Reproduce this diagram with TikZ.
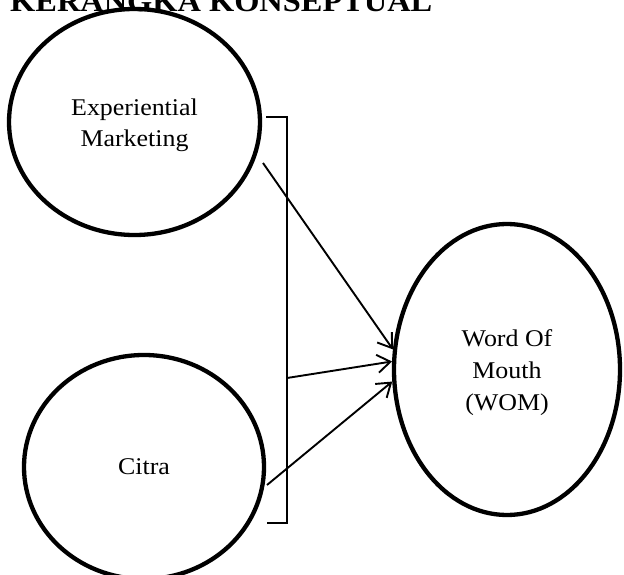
\documentclass[tikz,border=0pt]{standalone}
\usepackage{fontspec}
\setmainfont{Liberation Serif}[FakeStretch=1.08]
\usetikzlibrary{shapes.geometric,arrows.meta}
\newcommand{\lowered}[2]{\raisebox{-#1}[0pt][0pt]{\begin{tabular}{@{}c@{}}#2\end{tabular}}}
\tikzset{
  bubble/.style={ellipse, draw, line width=4.3pt, inner sep=0pt, align=center,
    font=\fontsize{24}{31}\selectfont},
  conn/.style={line width=1.9pt, -{Straight Barb[length=13pt,width=18pt]}},
  bracketline/.style={line width=1.5pt}
}
\begin{document}
\begin{tikzpicture}[x=1pt,y=-1pt]
\path[use as bounding box] (0,0) rectangle (624,575);
\clip (0,0) rectangle (624,575);
\node[anchor=base west, inner sep=0pt, font=\fontsize{30}{32}\selectfont\bfseries] (title) at (10,11.5) {KERANGKA KONSEPTUAL};
\node[bubble, minimum width=251pt, minimum height=226pt] (em) at (134.5,122) {\lowered{9.5pt}{Experiential\\Marketing}};
\node[bubble, minimum width=240pt, minimum height=224pt] (ct) at (144,467) {Citra};
\node[bubble, minimum width=226pt, minimum height=291pt, font=\fontsize{24}{32}\selectfont] (wom) at (507,369.5) {\lowered{9pt}{Word Of\\Mouth\\(WOM)}};
\coordinate (b1) at (266,117);
\coordinate (b2) at (287,117);
\coordinate (b3) at (287,523);
\coordinate (b4) at (267,523);
\draw[bracketline] (b1) -- (b2) -- (b3) -- (b4);
\coordinate (s1) at (263,163);
\coordinate (s2) at (287,378);
\coordinate (s3) at (267,485);
\draw[conn] (s1) -- (wom.170.5);
\draw[conn] (s2) -- (wom.176.3);
\draw[conn] (s3) -- (wom.186);
\end{tikzpicture}
\end{document}
